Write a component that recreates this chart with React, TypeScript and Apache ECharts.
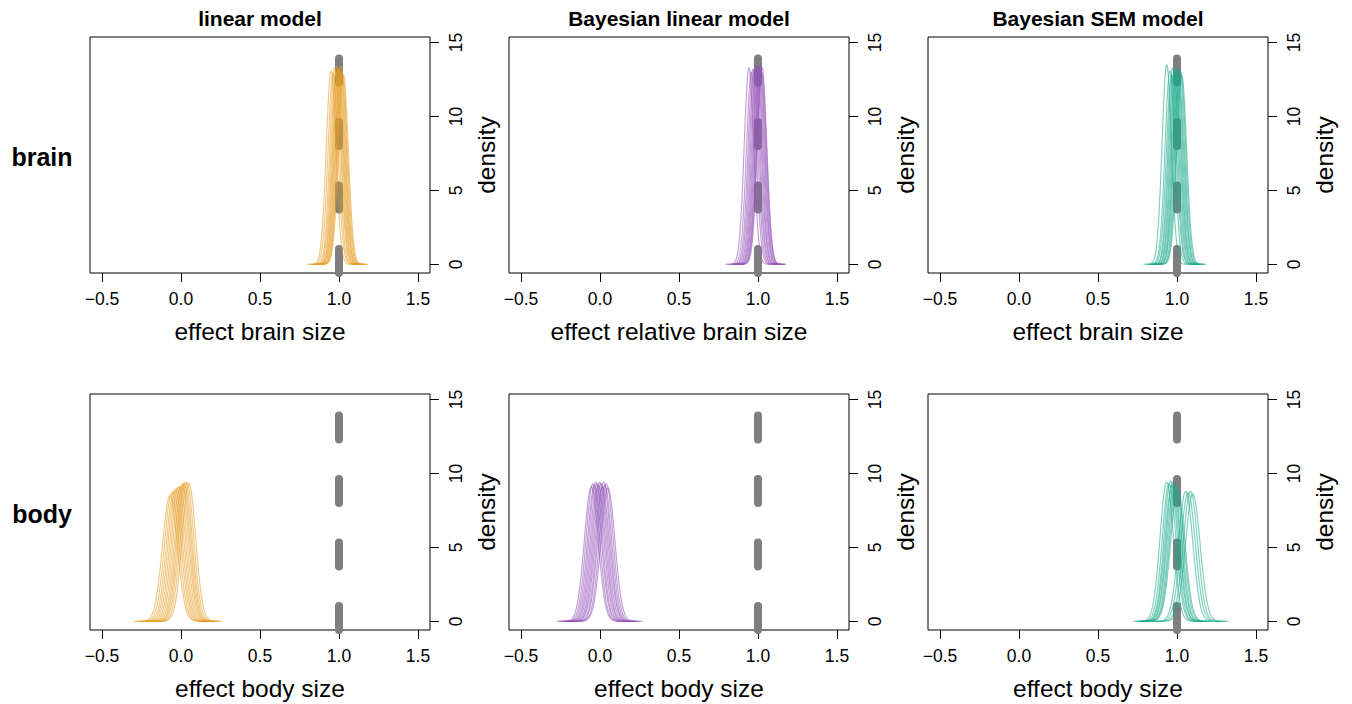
import React, { useEffect, useRef } from "react";
import * as echarts from "echarts";

const columnTitles = ["linear model", "Bayesian linear model", "Bayesian SEM model"];
const rowLabels = ["brain", "body"];
const xAxisTitles = [
  ["effect brain size", "effect relative brain size", "effect brain size"],
  ["effect body size", "effect body size", "effect body size"],
];
const xTicks = [-0.5, 0, 0.5, 1, 1.5];
const yTicks = [0, 5, 10, 15];
const trueEffect = 1;

// posterior density curves: centre (mean) and peak height
const brainLinearMeans = [0.95, 0.962, 0.972, 0.98, 0.986, 0.992, 0.997, 1.002, 1.007, 1.012, 1.017, 1.022, 1.028];
const brainLinearPeaks = [13.1, 12.9, 13.3, 13.0, 13.4, 13.2, 13.3, 13.2, 13.0, 13.4, 13.1, 12.9, 12.8];
const brainBayesMeans = [0.943, 0.958, 0.968, 0.976, 0.983, 0.99, 0.996, 1.002, 1.008, 1.013, 1.018, 1.023, 1.026];
const brainBayesPeaks = [13.3, 13.0, 13.2, 13.1, 13.4, 13.2, 13.5, 13.3, 13.1, 13.4, 13.2, 13.0, 13.3];
const brainSemMeans = [0.935, 0.955, 0.965, 0.973, 0.98, 0.987, 0.993, 0.999, 1.005, 1.011, 1.017, 1.024, 1.03];
const brainSemPeaks = [13.5, 13.1, 12.8, 13.3, 13.0, 13.2, 12.9, 13.3, 13.1, 12.7, 13.2, 13.0, 12.8];

const bodyLinearMeans = [-0.07, -0.058, -0.046, -0.036, -0.026, -0.016, -0.006, 0.004, 0.012, 0.02, 0.028, 0.038, 0.05];
const bodyLinearPeaks = [8.5, 8.7, 8.8, 8.9, 9.0, 9.1, 9.1, 9.2, 9.3, 9.3, 9.4, 9.4, 9.3];
const bodyBayesMeans = [-0.055, -0.045, -0.035, -0.027, -0.018, -0.01, -0.002, 0.006, 0.014, 0.022, 0.03, 0.04, 0.05];
const bodyBayesPeaks = [9.1, 9.3, 9.2, 9.4, 9.3, 9.2, 9.4, 9.3, 9.1, 9.4, 9.2, 9.3, 9.0];
const bodySemMeans = [0.935, 0.95, 0.96, 0.968, 0.975, 0.982, 0.99, 0.998, 1.005, 1.055, 1.07, 1.085, 1.1];
const bodySemPeaks = [9.4, 9.3, 9.5, 9.2, 9.4, 9.1, 9.3, 9.0, 8.9, 8.8, 8.7, 8.8, 8.6];

const panelMeans = [
  [brainLinearMeans, brainBayesMeans, brainSemMeans],
  [bodyLinearMeans, bodyBayesMeans, bodySemMeans],
];
const panelPeaks = [
  [brainLinearPeaks, brainBayesPeaks, brainSemPeaks],
  [bodyLinearPeaks, bodyBayesPeaks, bodySemPeaks],
];
const modelColors = ["rgba(230,159,40,0.55)", "rgba(150,85,185,0.55)", "rgba(30,170,140,0.55)"];

const X_MIN = -0.576;
const X_MAX = 1.576;
const Y_MIN = -0.59;
const Y_MAX = 15.37;
const FONT = '"Liberation Sans", Arial, Helvetica, sans-serif';

function densityCurve(mean: number, peak: number): number[][] {
  const sd = 1 / (peak * Math.sqrt(2 * Math.PI));
  const pts: number[][] = [];
  const n = 120;
  for (let i = 0; i <= n; i++) {
    const x = mean - 5 * sd + (10 * sd * i) / n;
    const z = (x - mean) / sd;
    pts.push([x, peak * Math.exp(-0.5 * z * z)]);
  }
  return pts;
}

const fmtX = (v: number) => {
  const s = v.toFixed(1);
  return v < 0 ? "\u2212" + s.slice(1) : s;
};

function buildOption() {
  const colLeft = [90, 509, 928];
  const rowTop = [37, 394];
  const grid: any[] = [];
  const xAxis: any[] = [];
  const yAxis: any[] = [];
  const series: any[] = [];
  const graphic: any[] = [];

  for (let r = 0; r < 2; r++) {
    for (let c = 0; c < 3; c++) {
      const idx = r * 3 + c;
      grid.push({
        left: colLeft[c],
        top: rowTop[r],
        width: 340,
        height: 236,
        show: true,
        borderColor: "#000",
        borderWidth: 1,
        backgroundColor: "transparent",
      });
      xAxis.push({
        type: "value",
        gridIndex: idx,
        position: "bottom",
        min: X_MIN,
        max: X_MAX,
        axisLine: { show: false, onZero: false },
        splitLine: { show: false },
        axisTick: { show: true, length: 9, customValues: xTicks, lineStyle: { color: "#000", width: 1 } },
        axisLabel: {
          customValues: xTicks,
          formatter: fmtX,
          fontSize: 17.5,
          color: "#000",
          margin: 17,
          fontFamily: FONT,
        },
        name: xAxisTitles[r][c],
        nameLocation: "middle",
        nameGap: 46,
        nameTextStyle: { fontSize: 24.5, color: "#000", fontFamily: FONT },
      });
      yAxis.push({
        type: "value",
        gridIndex: idx,
        position: "right",
        min: Y_MIN,
        max: Y_MAX,
        axisLine: { show: false, onZero: false },
        splitLine: { show: false },
        axisTick: { show: true, length: 9, customValues: yTicks, lineStyle: { color: "#000", width: 1 } },
        axisLabel: {
          customValues: yTicks,
          rotate: 90,
          fontSize: 17.5,
          color: "#000",
          margin: 17,
          fontFamily: FONT,
        },
        name: "density",
        nameLocation: "middle",
        nameRotate: 90,
        nameGap: 44,
        nameTextStyle: { fontSize: 24.5, color: "#000", fontFamily: FONT },
      });
      series.push({
        type: "line",
        xAxisIndex: idx,
        yAxisIndex: idx,
        data: [
          [trueEffect, Y_MIN],
          [trueEffect, Y_MAX],
        ],
        showSymbol: false,
        symbol: "none",
        silent: true,
        z: 2,
        lineStyle: { color: "#7f7f7f", width: 8, type: [24, 39.5], cap: "round" },
      });
      const means = panelMeans[r][c];
      const peaks = panelPeaks[r][c];
      for (let k = 0; k < means.length; k++) {
        series.push({
          type: "line",
          xAxisIndex: idx,
          yAxisIndex: idx,
          data: densityCurve(means[k], peaks[k]),
          showSymbol: false,
          symbol: "none",
          silent: true,
          z: 3,
          lineStyle: { color: modelColors[c], width: 1.2 },
        });
      }
    }
  }

  for (let c = 0; c < 3; c++) {
    graphic.push({
      type: "text",
      x: colLeft[c] + 170,
      y: 18,
      silent: true,
      style: {
        text: columnTitles[c],
        align: "center",
        verticalAlign: "middle",
        fontSize: 21,
        fontWeight: "bold",
        fontFamily: FONT,
        fill: "#000",
      },
    });
  }
  for (let r = 0; r < 2; r++) {
    graphic.push({
      type: "text",
      x: 42,
      y: rowTop[r] + 120,
      silent: true,
      style: {
        text: rowLabels[r],
        align: "center",
        verticalAlign: "middle",
        fontSize: 25,
        fontWeight: "bold",
        fontFamily: FONT,
        fill: "#000",
      },
    });
  }

  return {
    animation: false,
    backgroundColor: "#fff",
    grid,
    xAxis,
    yAxis,
    series,
    graphic,
  };
}

export default function App() {
  const ref = useRef<HTMLDivElement>(null);
  useEffect(() => {
    if (!ref.current) return;
    const chart = echarts.init(ref.current, undefined, { renderer: "svg" });
    chart.setOption(buildOption());
    return () => chart.dispose();
  }, []);
  return (
    <div
      ref={ref}
      style={{ position: "fixed", left: 0, top: 0, width: 1352, height: 704, background: "#fff" }}
    />
  );
}
